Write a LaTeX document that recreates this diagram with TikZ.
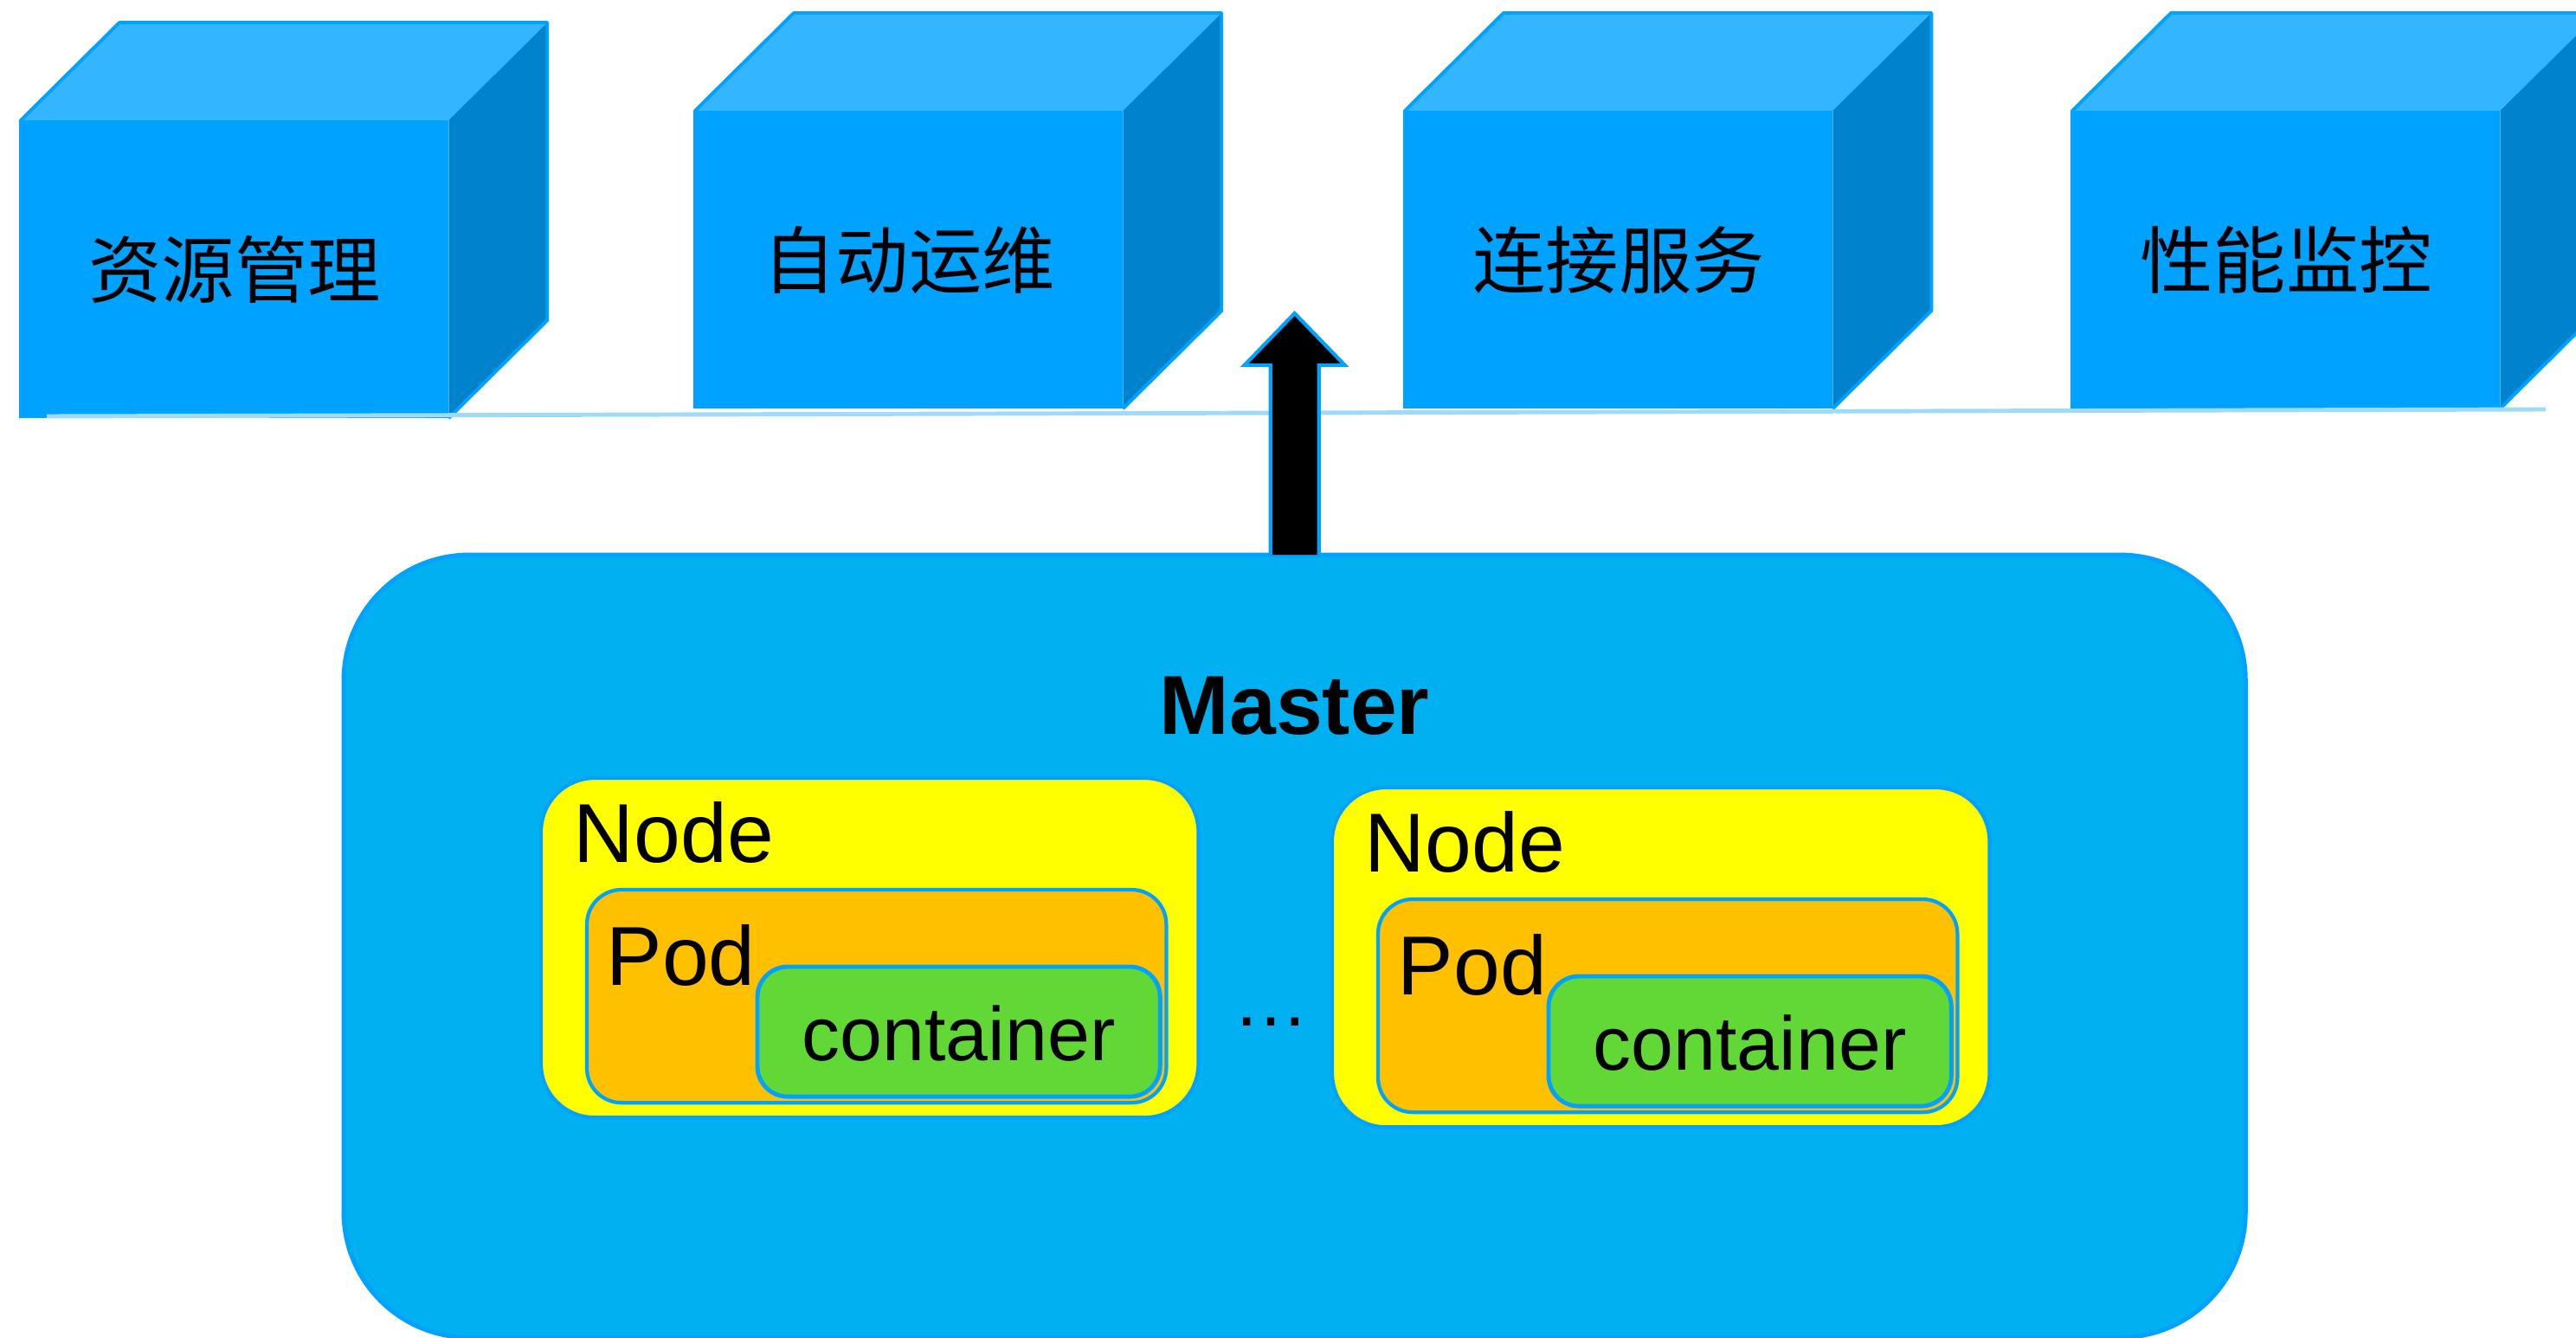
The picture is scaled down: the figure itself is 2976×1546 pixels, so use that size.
\documentclass[tikz,border=0pt]{standalone}
\usepackage{fontspec}
\setmainfont{Liberation Sans}
\newfontfamily\cjk{Noto Sans CJK SC}
\usetikzlibrary{calc}

\definecolor{cubefront}{RGB}{0,162,255}
\definecolor{cubetop}{RGB}{51,181,255}
\definecolor{cubeside}{RGB}{0,130,204}
\definecolor{edgeblue}{RGB}{0,162,255}
\definecolor{groundline}{RGB}{160,218,250}
\definecolor{masterblue}{RGB}{0,176,240}
\definecolor{nodeyellow}{RGB}{255,255,0}
\definecolor{podorange}{RGB}{255,192,0}
\definecolor{ctrgreen}{RGB}{98,216,54}

\tikzset{
  cube/.style={fill=cubefront, inner sep=0pt, outer sep=0pt, minimum width=4.94cm, minimum height=3.44cm, font=\cjk\fontsize{24}{28}\selectfont},
  cubeedge/.style={draw=edgeblue, line width=1.1pt, line join=round},
  masterbox/.style={fill=masterblue, draw=edgeblue, line width=1.4pt, rounded corners=1.45cm, outer sep=0pt, anchor=north west},
  nodebox/.style={fill=nodeyellow, draw=edgeblue, line width=1.2pt, rounded corners=0.62cm, outer sep=0pt, anchor=north west, minimum width=7.59cm, minimum height=3.92cm},
  podbox/.style={fill=podorange, draw=edgeblue, line width=1.2pt, rounded corners=0.4cm, outer sep=0pt, anchor=north west, minimum width=6.69cm, minimum height=2.46cm},
  ctrbox/.style={fill=ctrgreen, draw=edgeblue, line width=1.4pt, rounded corners=0.35cm, outer sep=0pt, anchor=north west, minimum width=4.65cm, minimum height=1.5cm},
  lbl/.style={inner sep=0pt, anchor=base west, font=\fontsize{27.5}{33}\selectfont},
  upstroke/.style={fill=black, draw=edgeblue, line width=1.2pt, line join=miter},
}

\begin{document}
\begin{tikzpicture}[x=0.01cm, y=-0.01cm]
  \clip (0,0) rectangle (2976,1546);
  % row of service cubes
  \foreach \cx/\cy/\txt/\nm in {24/139/资源管理/res, 803/128/自动运维/ops, 1623/128/连接服务/conn, 2394/128/性能监控/perf}{
    \node[cube, anchor=north west] (\nm) at (\cx,\cy) {\txt};
    \fill[cubetop] (\nm.north west) -- ++(114,-113) -- ($(\nm.north east)+(114,-113)$) -- (\nm.north east) -- cycle;
    \fill[cubeside] (\nm.north east) -- ++(114,-113) -- ($(\nm.south east)+(114,-113)$) -- (\nm.south east) -- cycle;
    \draw[cubeedge] (\nm.south west) -- (\nm.north west) -- ++(114,-113) -- ($(\nm.north east)+(114,-113)$) -- ($(\nm.south east)+(114,-113)$) -- (\nm.south east);
  }
  \draw[groundline, line width=1.4pt] (54,481) -- (2941,473);

  % master
  \node[masterbox, minimum width=21.96cm, minimum height=9.04cm] (master) at (397,641) {};
  \node[inner sep=0pt, anchor=base, font=\bfseries\fontsize{27.5}{33}\selectfont] (mastertitle) at ($(master.north)+(0,207)$) {Master};

  \coordinate (tip) at ($(master.north)+(0,-279)$);
  \draw[upstroke] ($(master.north)+(-28,0)$) -- ($(tip)+(-28,60)$) -- ($(tip)+(-58,60)$) -- (tip)
    -- ($(tip)+(58,60)$) -- ($(tip)+(28,60)$) -- ($(master.north)+(28,0)$);

  % worker nodes
  \foreach \i/\nx/\ny in {1/625/899, 2/1539/910}{
    \node[nodebox] (node\i) at (\nx,\ny) {};
    \node[lbl] (nodetitle\i) at ($(node\i.north west)+(37,97)$) {Node};
    \node[podbox] (pod\i) at ($(node\i.north west)+(53,129)$) {};
    \node[lbl] (podtitle\i) at ($(pod\i.north west)+(22,110)$) {Pod};
    \node[ctrbox] (ctr\i) at ($(pod\i.north west)+(197,89)$) {};
    \node[inner sep=0pt, anchor=base, font=\fontsize{25}{30}\selectfont] (ctrtitle\i) at ($(ctr\i.center)+(0,33)$) {container};
  }
  \node[inner sep=0pt, anchor=base, font=\fontsize{25}{30}\selectfont] (dots) at (1468,1185) {…};
\end{tikzpicture}
\end{document}
